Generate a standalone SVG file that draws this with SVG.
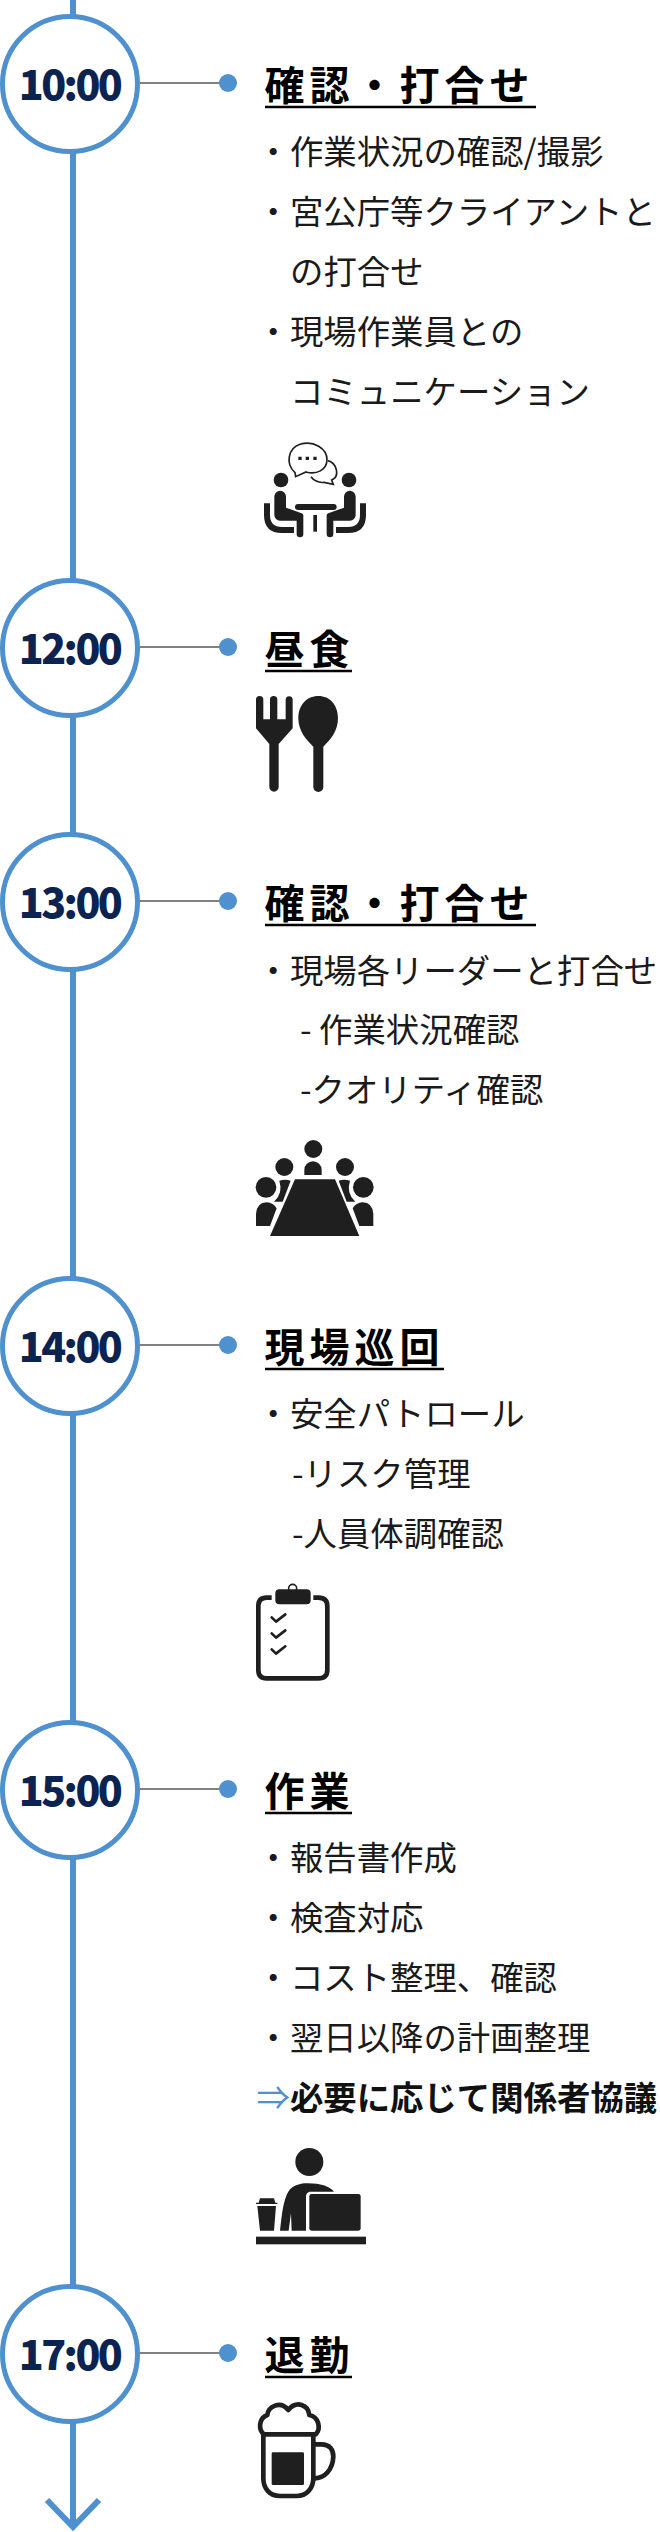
<svg xmlns="http://www.w3.org/2000/svg" width="660" height="2532" viewBox="0 0 660 2532">
<style>
.spine{fill:none;stroke:#4f90cf;stroke-width:6}
.link{stroke:#808080;stroke-width:2;fill:none}
.dot{fill:#4f90cf}
.ring{fill:#fff;stroke:#4f90cf;stroke-width:5}
.time{font:900 41px "Noto Sans CJK JP","Noto Sans",sans-serif;fill:#0b2350;text-anchor:middle;letter-spacing:-2.6px}
.title{font:700 40px "Noto Sans CJK JP",sans-serif;fill:#000;letter-spacing:5px}
.rule{stroke:#000;stroke-width:2.4}
.body{font:400 33.4px "Noto Sans CJK JP",sans-serif;fill:#1a1a1a}
.strong{font:700 33.4px "Noto Sans CJK JP",sans-serif;fill:#111}
.ic{fill:#1f1f1f}
.ln{fill:none;stroke:#1f1f1f;stroke-linecap:round;stroke-linejoin:round}
</style>
<defs>
<g id="person">
<circle class="ic" cx="93" cy="150" r="22"/>
<path class="ic" d="M73 200a17 17 0 0 1 35 0V233L155 250a6 6 0 0 1 5 6V312a10 10 0 0 1-20 0V272H90A17 17 0 0 1 73 255Z"/>
<path class="ln" style="stroke-width:18;stroke-linecap:butt" d="M51 220V255Q51 300 96 300H132"/>
</g>
</defs>
<g id="connectors">
<path class="spine" d="M73 0V2527"/>
<path class="spine" d="M47 2500L73 2527L99 2500" stroke-linejoin="miter"/>
<path class="link" d="M140 83H228M140 647H228M140 901H228M140 1345H228M140 1789H228M140 2353H228"/>
</g>
<g id="node-1000">
<circle class="ring" cx="70" cy="84" r="67.5"/>
<text class="time" x="69.5" y="100">10:00</text>
<circle class="dot" cx="228" cy="83" r="9"/>
<text class="title" x="264.5" y="100">確認・打合せ</text>
<path class="rule" d="M265 107H536"/>
<text class="body" x="256.500" y="164">・作業状況の確認/撮影</text>
<text class="body" x="256.500" y="224">・宮公庁等クライアントと</text>
<text class="body" x="290" y="284">の打合せ</text>
<text class="body" x="256.500" y="344">・現場作業員との</text>
<text class="body" x="290" y="404">コミュニケーション</text>
<g transform="translate(250,430) scale(.3333)">
<path d="M135 128C105 100 115 55 150 43C190 30 232 55 231 90C230 120 200 135 168 126L137 140Z" fill="#fff" stroke="#1f1f1f" stroke-width="5"/>
<path d="M234 92C262 100 270 140 245 150L250 163L222 157C205 160 190 150 183 140" fill="none" stroke="#1f1f1f" stroke-width="5"/>
<path class="ic" d="M145 80h10v10h-10zM167 80h10v10h-10zM190 80h10v10h-10z"/>
<use href="#person"/>
<use href="#person" transform="translate(390,0) scale(-1,1)"/>
<rect class="ic" x="135" y="222" width="125" height="18" rx="9"/>
<rect class="ic" x="190" y="255" width="11" height="50"/>
</g>
</g>
<g id="node-1200">
<circle class="ring" cx="70" cy="648" r="67.5"/>
<text class="time" x="69.5" y="664">12:00</text>
<circle class="dot" cx="228" cy="647" r="9"/>
<text class="title" x="264.5" y="664">昼食</text>
<path class="rule" d="M265 671H352"/>
<g class="ic" transform="translate(250,690) scale(.3333)">
<path d="M18 29a11 11 0 0 1 22 0V88H60V29a11 11 0 0 1 22 0V88H107V29a10.500 10.500 0 0 1 21 0V115L86 162V291a14 14 0 0 1-28 0V162L18 115Z"/>
<path d="M145 85C145 45 170 18 205 18C240 18 264 45 264 85C264 125 240 150 220 170V291a15 15 0 0 1-30 0V170C170 150 145 125 145 85Z"/>
</g>
</g>
<g id="node-1300">
<circle class="ring" cx="70" cy="902" r="67.5"/>
<text class="time" x="69.5" y="918">13:00</text>
<circle class="dot" cx="228" cy="901" r="9"/>
<text class="title" x="264.5" y="918">確認・打合せ</text>
<path class="rule" d="M265 925H536"/>
<text class="body" x="256.500" y="983">・現場各リーダーと打合せ</text>
<text class="body" x="300" y="1042">- 作業状況確認</text>
<text class="body" x="300" y="1102">-クオリティ確認</text>
<g class="ic" transform="translate(250,1130) scale(.3333)">
<circle cx="190" cy="57" r="27"/><circle cx="103" cy="111" r="27"/><circle cx="285" cy="111" r="27"/><circle cx="48" cy="172" r="31"/><circle cx="340" cy="172" r="31"/>
<path d="M163 135V120a26 26 0 0 1 52 0V135Z"/>
<path d="M135 148H255L328 318H60Z"/>
<path d="M88 152Q105 146 122 152L98 215H72Q100 190 88 152Z"/>
<path d="M300 152Q283 146 266 152L290 215H316Q288 190 300 152Z"/>
<path d="M18 288V252Q20 218 50 217Q70 218 80 235L60 288Z"/>
<path d="M370 288V252Q368 218 338 217Q318 218 308 235L328 288Z"/>
</g>
</g>
<g id="node-1400">
<circle class="ring" cx="70" cy="1346" r="67.5"/>
<text class="time" x="69.5" y="1362">14:00</text>
<circle class="dot" cx="228" cy="1345" r="9"/>
<text class="title" x="264.5" y="1362">現場巡回</text>
<path class="rule" d="M265 1369H444"/>
<text class="body" x="256.500" y="1426">・安全パトロール</text>
<text class="body" x="292" y="1486">-リスク管理</text>
<text class="body" x="292" y="1546">-人員体調確認</text>
<g transform="translate(250,1575) scale(.3333)">
<path class="ln" style="stroke-width:14;stroke-linecap:butt" d="M65 68H50Q25 68 25 93V285Q25 310 50 310H205Q232 310 232 285V93Q232 68 205 68H190"/>
<rect class="ic" x="76" y="43" width="106" height="45" rx="12"/>
<circle cx="128" cy="40" r="12" fill="none" stroke="#1f1f1f" stroke-width="5"/>
<path class="ln" style="stroke-width:8" d="M65 127L78 140L106 118M65 175L78 188L106 166M65 223L78 236L106 214"/>
</g>
</g>
<g id="node-1500">
<circle class="ring" cx="70" cy="1790" r="67.5"/>
<text class="time" x="69.5" y="1806">15:00</text>
<circle class="dot" cx="228" cy="1789" r="9"/>
<text class="title" x="264.5" y="1806">作業</text>
<path class="rule" d="M265 1813H352"/>
<text class="body" x="256.500" y="1870">・報告書作成</text>
<text class="body" x="256.500" y="1930">・検査対応</text>
<text class="body" x="256.500" y="1990">・コスト整理、確認</text>
<text class="body" x="256.500" y="2050">・翌日以降の計画整理</text>
<text class="strong" x="256.500" y="2110"><tspan fill="#4f90cf" font-weight="400">⇒</tspan>必要に応じて関係者協議</text>
<g class="ic" transform="translate(250,2140) scale(.3333)">
<circle cx="178" cy="66" r="42"/>
<path d="M90 272C96 220 100 180 115 155C128 135 150 130 175 130C210 130 238 138 252 155H182C172 155 168 162 168 172V272H125L123 220L116 272Z"/>
<rect x="178" y="162" width="154" height="110" rx="7"/>
<rect x="18" y="290" width="330" height="23"/>
<path d="M26 188L30 175H72L76 188H82V192H18V188ZM22 198H78L72 272H30Z"/>
</g>
</g>
<g id="node-1700">
<circle class="ring" cx="70" cy="2354" r="67.5"/>
<text class="time" x="69.5" y="2370">17:00</text>
<circle class="dot" cx="228" cy="2353" r="9"/>
<text class="title" x="264.5" y="2370">退勤</text>
<path class="rule" d="M265 2377H352"/>
<g transform="translate(250,2395) scale(.3333)">
<path class="ln" style="stroke-width:14" d="M42 118C25 105 25 70 52 60C55 35 90 15 115 45C140 15 175 30 178 60C205 65 215 100 197 118Z"/>
<path class="ln" style="stroke-width:14" d="M40 120V250C40 280 58 303 90 303H140C170 303 190 280 190 250V120"/>
<path class="ln" style="stroke-width:14" d="M195 148H215C240 148 250 165 250 185C248 225 225 248 195 250"/>
<rect class="ic" x="65" y="172" width="97" height="98" rx="4"/>
</g>
</g>
</svg>
